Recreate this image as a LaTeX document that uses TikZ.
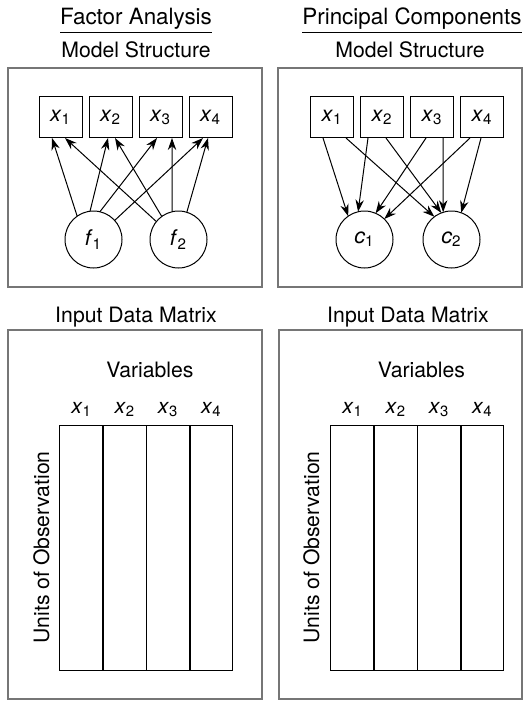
\documentclass[tikz,border=0pt]{standalone}
\usepackage{fontspec}
\setmainfont{TeX Gyre Heros}
\usetikzlibrary{shapes,arrows.meta,positioning}
\definecolor{panelgray}{RGB}{118,118,118}
\newcommand{\subvar}[2]{\textit{#1}\textsubscript{#2}}

\begin{document}
\begin{tikzpicture}[x=0.5pt, y=-0.5pt]
        % Define block styles
        \tikzstyle{varnode} = [rectangle, draw, line width=0.5pt, minimum width=21.5pt, minimum height=20.5pt, inner sep=0pt, outer sep=0pt, font=\fontsize{10.8}{12}\selectfont]
        \tikzstyle{factnode} = [circle, draw, line width=0.5pt, minimum size=28.5pt, inner sep=0pt, outer sep=0pt, font=\fontsize{10.8}{12}\selectfont]
        \tikzstyle{colnode} = [rectangle, draw, line width=0.5pt, minimum width=21.625pt, minimum height=122.5pt, inner sep=0pt, outer sep=0pt]
        \tikzstyle{divider} = [draw, line width=0.9pt]
        \tikzstyle{panel} = [draw=panelgray, line width=1.1pt]
        \tikzstyle{title} = [anchor=base, font=\fontsize{11.2}{13}\selectfont]
        \tikzstyle{heading} = [anchor=base, font=\fontsize{10.6}{12}\selectfont]
        \tikzstyle{line} = [draw, line width=0.5pt, -{Stealth[length=6pt,width=4.2pt]}]

        \useasboundingbox (0,0) rectangle (526,701);

        % Panels
        \draw[panel] (8,68) rectangle (262,287);
        \draw[panel] (278,68) rectangle (522,287);
        \draw[panel] (8,330) rectangle (262,699);
        \draw[panel] (279,330) rectangle (522,699);

        % Titles
        \node[title] (fa) at (136,25) {\underline{Factor Analysis}};
        \node[title] (pc) at (412,25) {\underline{Principal Components}};
        \node[heading] (msl) at (136,58) {Model Structure};
        \node[heading] (msr) at (410,58) {Model Structure};
        \node[heading] (idl) at (136,322) {Input Data Matrix};
        \node[heading] (idr) at (408,322) {Input Data Matrix};

        % Factor model nodes
        \node[varnode] (x1) at (60.5,117.5) {\subvar{x}{1}};
        \node[varnode, right=3.5pt of x1] (x2) {\subvar{x}{2}};
        \node[varnode, right=3.5pt of x2] (x3) {\subvar{x}{3}};
        \node[varnode, right=3.5pt of x3] (x4) {\subvar{x}{4}};
        \node[factnode] (f1) at (93.5,239.5) {\subvar{f}{1}};
        \node[factnode] (f2) at (178.5,239.5) {\subvar{f}{2}};

        % Component model nodes
        \node[varnode] (y1) at (332,117.5) {\subvar{x}{1}};
        \node[varnode, right=3.5pt of y1] (y2) {\subvar{x}{2}};
        \node[varnode, right=3.5pt of y2] (y3) {\subvar{x}{3}};
        \node[varnode, right=3.5pt of y3] (y4) {\subvar{x}{4}};
        \node[factnode] (c1) at (364.5,239.5) {\subvar{c}{1}};
        \node[factnode] (c2) at (451.5,239.5) {\subvar{c}{2}};

        % Factors point to the variables
        \draw[line] (f1.125) -- ([xshift=-4.25pt]x1.south);
        \draw[line] (f2.141) -- ([xshift=2.25pt]x1.south);
        \draw[line] (f1.97) -- ([xshift=-1.25pt]x2.south);
        \draw[line] (f2.126) -- ([xshift=2.25pt]x2.south);
        \draw[line] (f1.77) -- ([xshift=-1.75pt]x3.south);
        \draw[line] (f2.103) -- ([xshift=5.75pt]x3.south);
        \draw[line] (f1.42) -- ([xshift=-3.75pt]x4.south);
        \draw[line] (f2.73) -- ([xshift=-1.25pt]x4.south);

        % Variables point to the components
        \draw[line] ([xshift=-4.5pt]y1.south) -- (c1.125);
        \draw[line] ([xshift=7pt]y1.south) -- (c2.127);
        \draw[line] ([xshift=-7pt]y2.south) -- (c1.103);
        \draw[line] ([xshift=2pt]y2.south) -- (c2.111);
        \draw[line] ([xshift=-3pt]y3.south) -- (c1.67);
        \draw[line] ([xshift=5.5pt]y3.south) -- (c2.107);
        \draw[line] ([xshift=-6pt]y4.south) -- (c1.46);
        \draw[line] ([xshift=-0.5pt]y4.south) -- (c2.70);

        % Data matrices
        \node[heading] (vl) at (150,377) {Variables};
        \node[colnode] (la) at (81.6,547.5) {};
        \node[colnode, right=0pt of la] (lb) {};
        \node[colnode, right=0pt of lb] (lc) {};
        \node[colnode, right=0pt of lc] (ld) {};
        \draw[divider] (la.north east) -- (la.south east);
        \draw[divider] (lb.north east) -- (lb.south east);
        \draw[divider] (lc.north east) -- (lc.south east);
        \node[heading] at (81.6,413) {\subvar{x}{1}};
        \node[heading] at (124.9,413) {\subvar{x}{2}};
        \node[heading] at (168.1,413) {\subvar{x}{3}};
        \node[heading] at (211.4,413) {\subvar{x}{4}};
        \node[font=\fontsize{10.6}{12}\selectfont, rotate=90, inner sep=0pt] (ul) at (41.5,547.5) {Units of Observation};

        \node[heading] (vr) at (421.5,377) {Variables};
        \node[colnode] (ra) at (352.6,547.5) {};
        \node[colnode, right=0pt of ra] (rb) {};
        \node[colnode, right=0pt of rb] (rc) {};
        \node[colnode, right=0pt of rc] (rd) {};
        \draw[divider] (ra.north east) -- (ra.south east);
        \draw[divider] (rb.north east) -- (rb.south east);
        \draw[divider] (rc.north east) -- (rc.south east);
        \node[heading] at (352.6,413) {\subvar{x}{1}};
        \node[heading] at (395.9,413) {\subvar{x}{2}};
        \node[heading] at (439.1,413) {\subvar{x}{3}};
        \node[heading] at (482.4,413) {\subvar{x}{4}};
        \node[font=\fontsize{10.6}{12}\selectfont, rotate=90, inner sep=0pt] (ur) at (311.5,547.5) {Units of Observation};

    \end{tikzpicture}
\end{document}
